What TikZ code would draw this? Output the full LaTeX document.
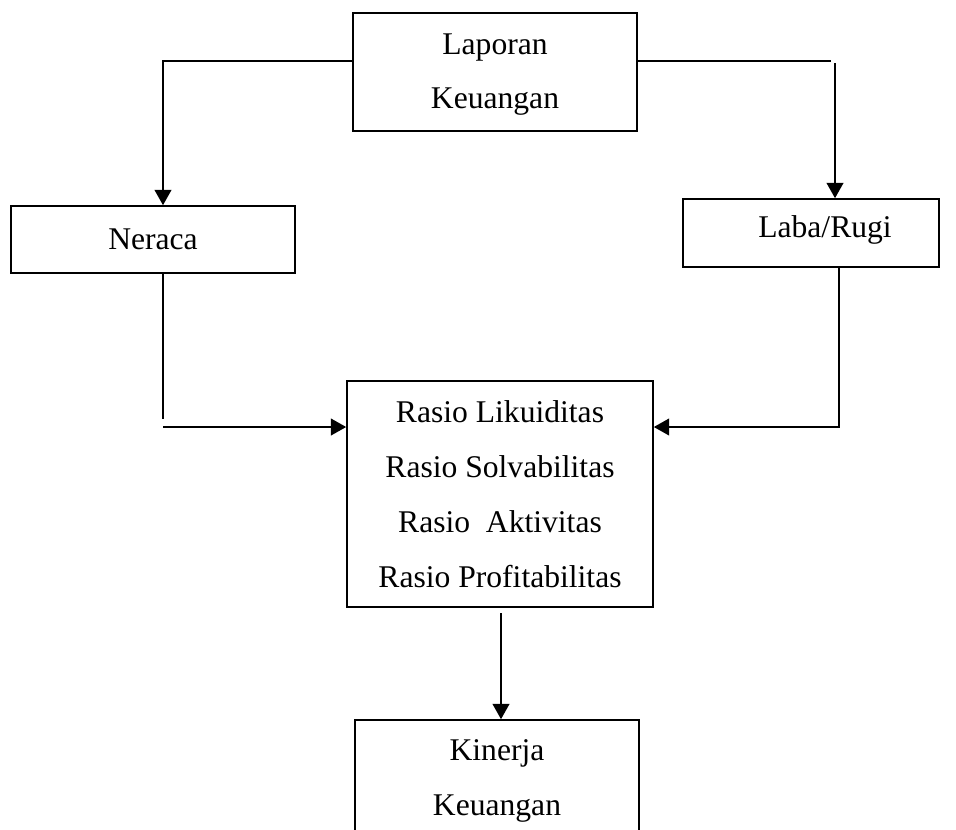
\documentclass[tikz,border=0pt]{standalone}
\usepackage{fontspec}
\setmainfont{Liberation Serif}
\usetikzlibrary{arrows.meta}
\begin{document}
\begin{tikzpicture}[x=0.75pt,y=-0.75pt,
  box/.style={draw,line width=1.2pt,inner sep=0pt,align=center,font=\fontsize{23.7}{40.5}\selectfont},
  lbl/.style={inner sep=0pt,align=center,font=\fontsize{23.7}{40.5}\selectfont},
  conn/.style={line width=1.5pt},
  arr/.style={conn,-{Triangle[width=12.5pt,length=11.5pt]}}]
\useasboundingbox (0,0) rectangle (956,829);
\clip (0,0) rectangle (956,829);
% boxes
\node[box,minimum width=213pt,minimum height=88.5pt] (lap) at (495,72) {};
\node[lbl] (laptxt) at (495,75) {Laporan\\Keuangan};
\node[box,minimum width=213pt,minimum height=50.25pt] (nera) at (153,239.5) {Neraca};
\node[box,minimum width=192pt,minimum height=51pt] (laba) at (811,233) {};
\node[lbl] (labatxt) at (825,230) {Laba/Rugi};
\node[box,minimum width=229.5pt,minimum height=169.5pt,font=\fontsize{23.7}{41.25}\selectfont] (ras) at (500,494)
  {Rasio Likuiditas\\Rasio Solvabilitas\\Rasio\ \ Aktivitas\\Rasio Profitabilitas};
\node[box,minimum width=213pt,minimum height=86.25pt] (kin) at (497,777.5) {};
\node[lbl,font=\fontsize{23.7}{41.25}\selectfont] (kintxt) at (497,780.5) {Kinerja\\Keuangan};
% connectors
\coordinate (lL) at (163,61);
\draw[arr] (lap.west |- lL) -- (lL) -- (lL |- nera.north);
\coordinate (rH) at (831,61);
\coordinate (rV) at (835,63);
\draw[conn] (lap.east |- rH) -- (rH);
\draw[arr] (rV) -- (rV |- laba.north);
\coordinate (nB) at (163,419);
\draw[conn] (nB |- nera.south) -- (nB);
\coordinate (nH) at (163,427);
\draw[arr] (nH) -- (nH -| ras.west);
\coordinate (lbC) at (839,427);
\draw[arr] (lbC |- laba.south) -- (lbC) -- (lbC -| ras.east);
\coordinate (rk) at (501,613);
\draw[arr] (rk) -- (rk |- kin.north);
\end{tikzpicture}
\end{document}
